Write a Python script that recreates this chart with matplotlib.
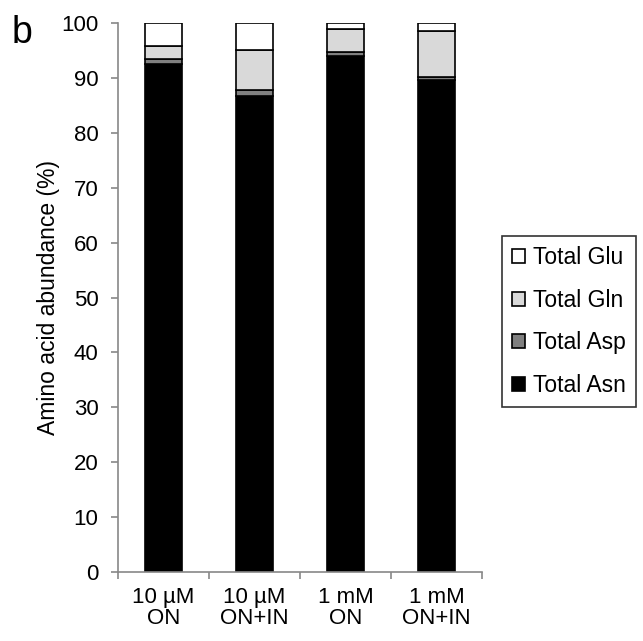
import numpy as np
import matplotlib.pyplot as plt

plt.rcParams['font.family'] = ['Liberation Sans', 'DejaVu Sans']

categories = ["10 µM\nON", "10 µM\nON+IN", "1 mM\nON", "1 mM\nON+IN"]
asn = [92.6, 86.8, 94.0, 89.7]
asp = [0.9, 1.0, 0.8, 0.4]
gln = [2.3, 7.3, 4.2, 8.4]
glu = [4.2, 4.9, 1.0, 1.5]

series = [("Total Asn", asn, "#000000"),
          ("Total Asp", asp, "#808080"),
          ("Total Gln", gln, "#d9d9d9"),
          ("Total Glu", glu, "#ffffff")]


def main():
    fig = plt.figure(figsize=(6.43, 6.41), dpi=100)
    ax = fig.add_axes([0.1835, 0.1076, 0.566, 0.8564])
    x = np.arange(len(categories))
    bottom = np.zeros(len(categories))
    handles = []
    for name, vals, color in series:
        b = ax.bar(x, vals, 0.415, bottom=bottom, color=color,
                   edgecolor="black", linewidth=1.2, label=name)
        bottom += np.array(vals)
        handles.append(b)

    ax.set_xlim(-0.5, len(categories) - 0.5)
    ax.set_ylim(0, 100)
    ax.set_yticks(range(0, 101, 10))
    ax.set_xticks(x)
    ax.set_xticklabels(categories, fontsize=16, linespacing=1.0)
    ax.tick_params(axis="x", length=0, pad=11)
    ax.tick_params(axis="y", length=5, color="#888888", width=1.2,
                   labelsize=16, pad=9)
    # tick marks between categories
    ax.set_xticks(np.arange(-0.5, len(categories), 1), minor=True)
    ax.tick_params(axis="x", which="minor", length=5, color="#888888", width=1.2)
    for s in ["top", "right"]:
        ax.spines[s].set_visible(False)
    for s in ["bottom", "left"]:
        ax.spines[s].set_color("#888888")
        ax.spines[s].set_linewidth(1.2)
    ax.set_ylabel("Amino acid abundance (%)", fontsize=16.5, labelpad=1)

    leg = fig.legend(handles[::-1], [s[0] for s in series][::-1],
                     loc="upper left", bbox_to_anchor=(502 / 643, 1 - 236 / 641),
                     fontsize=16.5, frameon=True, fancybox=False,
                     edgecolor="black", handlelength=0.55, handleheight=0.55,
                     handletextpad=0.35, labelspacing=0.85, borderpad=0.45,
                     borderaxespad=0)
    leg.get_frame().set_linewidth(1.2)

    fig.text(12 / 643, 1 - 43 / 641, "b", fontsize=27, va="baseline")
    fig.savefig("out.png", dpi=100)
    plt.close()


if __name__ == "__main__":
    main()
